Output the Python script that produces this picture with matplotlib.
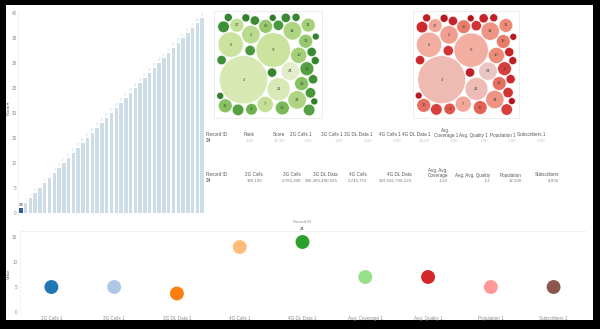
import numpy as np
import matplotlib
matplotlib.use("Agg")
import matplotlib.pyplot as plt
from matplotlib.patches import Rectangle, Circle
from matplotlib.colors import LinearSegmentedColormap

plt.rcParams['font.family'] = ['Liberation Sans', 'DejaVu Sans']

# ---------------- data ----------------
# Rank bar chart (one bar per record, sorted by rank)
rank_values = [1, 2, 3, 4, 5, 6, 7, 8, 9, 10, 11, 12, 13, 14, 15, 16, 17, 18, 19, 20,
               21, 22, 23, 24, 25, 26, 27, 28, 29, 30, 31, 32, 33, 34, 35, 36, 37, 38, 39]
selected_record = "24"

# Bubble charts: record id, bubble size (area) and colour measure
bubble_ids = ["3", "9", "6", "21", "2", "24", "14", "34", "10", "7", "23", "16", "30",
              "13", "25", "18", "27", "31", "4",
              "1", "5", "8", "11", "12", "15", "17", "19", "20", "22", "26", "28", "29",
              "32", "33", "35", "36", "37", "38", "39"]
bubble_size = [441, 225, 121, 100, 64, 64, 64, 64, 49, 49, 36, 36, 36,
               36, 36, 36, 36, 36, 25,
               25, 20, 16, 16, 12, 25, 16, 9, 20, 12, 16, 9, 25,
               16, 12, 9, 20, 16, 9, 12]
bubble_shade = [0.12, 0.22, 0.22, 0.10, 0.30, 0.00, 0.35, 0.35, 0.40, 0.25, 0.50, 0.50, 0.55,
                0.45, 0.45, 0.70, 0.25, 0.40, 0.60,
                0.80, 0.75, 0.90, 0.85, 0.95, 0.70, 0.80, 1.00, 0.75, 0.90, 0.85, 0.95, 0.70,
                0.80, 0.90, 1.00, 0.75, 0.85, 0.95, 0.90]
bubble_labelled = 19

# Detail tables
table1_headers = ["Record ID", "Rank", "Score", "2G Calls 1", "3G Calls 1", "3G DL Data 1",
                  "4G Calls 1", "4G DL Data 1", "Avg.\nCoverage 1", "Avg. Quality 1",
                  "Population 1", "Subscribers 1"]
table1_values = ["24", "1.00", "37.38", "1.00", "1.00", "1.00", "1.00", "14.00", "1.00",
                 "1.00", "1.00", "1.00"]
table2_headers = ["Record ID", "2G Calls", "3G Calls", "3G DL Data", "4G Calls", "4G DL Data",
                  "Avg. Avg.\nCoverage", "Avg. Avg. Quality", "Population", "Subscribers"]
table2_values = ["24", "320,196", "2,766,200", "246,483,490,565", "2,746,753",
                 "369,556,796,123", "-123", "-13", "32,920", "4,936"]

# Measure values for the selected record
measures = ["2G Calls 1", "3G Calls 1", "3G DL Data 1", "4G Calls 1", "4G DL Data 1",
            "Avg. Coverage 1", "Avg. Quality 1", "Population 1", "Subscribers 1"]
measure_values = [5, 5, 3.7, 13, 14, 7, 7, 5, 5]
measure_colors = ["#1f77b4", "#aec7e8", "#ff7f0e", "#ffbb78", "#2ca02c",
                  "#98df8a", "#d62728", "#ff9896", "#8c564b"]

# ---------------- layout helpers ----------------
W, H = 600, 329
fig = plt.figure(figsize=(W / 100, H / 100), dpi=100, facecolor="black")


def rect(x0, y0, x1, y1):
    return [x0 / W, 1 - y1 / H, (x1 - x0) / W, (y1 - y0) / H]


def ftext(x, y, s, **kw):
    fig.text(x / W, 1 - y / H, s, **kw)


fig.patches.append(Rectangle((6 / W, 1 - 320 / H), 587 / W, 315 / H,
                             transform=fig.transFigure, facecolor="white",
                             edgecolor="none", zorder=-5))

GREY = "#8a8a8a"
TICK_FS = 3.3

# ---------------- rank bars ----------------
axb = fig.add_axes(rect(18, 12, 205, 215))
axb.set_facecolor("none")
xs = np.arange(1, len(rank_values) + 1)
bar_colors = ["#2f5f8a"] + ["#cddde8"] * (len(rank_values) - 1)
axb.bar(xs, rank_values, width=0.72, color=bar_colors)
for x, v in zip(xs[1:], rank_values[1:]):
    axb.text(x, v + 0.3, str(v), ha="center", va="bottom", fontsize=2.2, color="#d5d5d5")
axb.text(xs[0], rank_values[0] + 0.3, selected_record, ha="center", va="bottom",
         fontsize=3.2, color="#333333")
axb.set_xlim(0.4, len(rank_values) + 0.6)
axb.set_ylim(-0.4, 40.3)
axb.set_yticks([0, 5, 10, 15, 20, 25, 30, 35, 40])
axb.tick_params(axis="y", labelsize=TICK_FS, labelcolor=GREY, length=0, pad=1)
axb.set_xticks([])
for s in ["top", "right", "bottom"]:
    axb.spines[s].set_visible(False)
axb.spines["left"].set_color("#eeeeee")
axb.spines["left"].set_linewidth(0.5)
ftext(8.5, 108, "Rank \u25be", fontsize=3.1, color="#666666", rotation=90,
      ha="center", va="center")


# ---------------- packed bubbles ----------------
def pack_circles(radii, gap=0.7):
    """Greedy packing: largest first, each circle goes where the layout's
    bounding square grows least, preferring spots near the layout centre."""
    n = len(radii)
    order = sorted(range(n), key=lambda i: -radii[i])
    pos = np.zeros((n, 2))
    done = []
    for k in order:
        r = radii[k]
        if not done:
            pos[k] = (0.0, 0.0)
            done.append(k)
            continue
        cands = []
        for a in done:
            d = radii[a] + r + gap
            for ang in np.linspace(0, 2 * np.pi, 72, endpoint=False):
                cands.append(pos[a] + d * np.array([np.cos(ang), -np.sin(ang)]))
        for ii, a in enumerate(done):
            for b in done[ii + 1:]:
                ra = radii[a] + r + gap
                rb = radii[b] + r + gap
                dv = pos[b] - pos[a]
                dd = np.hypot(*dv)
                if dd == 0 or dd > ra + rb or dd < abs(ra - rb):
                    continue
                l = (ra ** 2 - rb ** 2 + dd ** 2) / (2 * dd)
                h = np.sqrt(max(ra ** 2 - l ** 2, 0))
                base = pos[a] + l * dv / dd
                perp = np.array([-dv[1], dv[0]]) / dd
                cands.append(base + h * perp)
                cands.append(base - h * perp)
        placed = np.array([pos[j] for j in done])
        prad = np.array([radii[j] for j in done])
        lo = (placed - prad[:, None]).min(axis=0)
        hi = (placed + prad[:, None]).max(axis=0)
        mid = (lo + hi) / 2
        best, best_cost = None, np.inf
        for c in cands:
            dist = np.hypot(placed[:, 0] - c[0], placed[:, 1] - c[1])
            if not np.all(dist >= prad + r + gap - 1e-6):
                continue
            nlo = np.minimum(lo, c - r)
            nhi = np.maximum(hi, c + r)
            ext = nhi - nlo
            cost = max(ext) * 1000 + (ext[0] + ext[1]) * 10 + np.hypot(*(c - mid))
            if cost < best_cost - 1e-9:
                best, best_cost = c, cost
        pos[k] = best
        done.append(k)
    return pos


radii = np.sqrt(np.array(bubble_size, dtype=float))
centers = pack_circles(radii)
centers[:, 1] *= -1   # largest bubble at the bottom of the layout

greens = LinearSegmentedColormap.from_list(
    "g", ["#e2edc9", "#cfe5a2", "#a4d077", "#6db24e", "#3e8f35", "#2f7d2c"])
reds = LinearSegmentedColormap.from_list(
    "r", ["#e9c6c4", "#f2b2a6", "#ee8a78", "#e0554a", "#cc2a2e", "#b3141e"])


def draw_bubbles(box, cmap):
    ax = fig.add_axes(rect(*box))
    ax.set_facecolor("white")
    for (cx, cy), r, sh, lab, i in zip(centers, radii, bubble_shade, bubble_ids,
                                       range(len(radii))):
        ax.add_patch(Circle((cx, cy), r, facecolor=cmap(sh), edgecolor="white",
                            linewidth=0.3))
        if i < bubble_labelled:
            ax.text(cx, cy, lab, ha="center", va="center", fontsize=3.0, color="#444444")
    x0 = (centers[:, 0] - radii).min()
    x1 = (centers[:, 0] + radii).max()
    y0 = (centers[:, 1] - radii).min()
    y1 = (centers[:, 1] + radii).max()
    ax.set_xlim(x0 - 2, x1 + 2)
    ax.set_ylim(y0 - 2, y1 + 2)
    ax.set_aspect("equal", adjustable="datalim")
    ax.set_xticks([])
    ax.set_yticks([])
    for s in ax.spines.values():
        s.set_color("#e8e8e8")
        s.set_linewidth(0.5)
    return ax


draw_bubbles((214, 11, 322, 118), greens)
draw_bubbles((413, 11, 519, 118), reds)

# ---------------- detail tables ----------------
HDR = "#555555"
t1_right = [None, 254, 285, 312, 343, 372, 401, 430, 458, 488, 516, 545]
for i, (h, v) in enumerate(zip(table1_headers, table1_values)):
    if i == 0:
        ftext(206, 135, h, fontsize=3.3, color=HDR, va="center", ha="left")
        ftext(206, 140.5, v, fontsize=3.3, color="#333333", va="center", ha="left")
    else:
        ftext(t1_right[i], 133 if "\n" in h else 135, h, fontsize=3.3, color=HDR,
              va="center", ha="right", multialignment="center", linespacing=1.1)
        ftext(t1_right[i], 140.5, v, fontsize=3.2, color="#c4c4c4", va="center", ha="right")

t2_right = [None, 263, 301, 338, 367, 412, 448, 490, 522, 559]
for i, (h, v) in enumerate(zip(table2_headers, table2_values)):
    if i == 0:
        ftext(206, 175, h, fontsize=3.3, color=HDR, va="center", ha="left")
        ftext(206, 180.5, v, fontsize=3.3, color="#333333", va="center", ha="left")
    else:
        ftext(t2_right[i], 173 if "\n" in h else 175, h, fontsize=3.3, color=HDR,
              va="center", ha="right", multialignment="right", linespacing=1.1)
        ftext(t2_right[i], 180.5, v, fontsize=3.2, color="#7a7a7a", va="center", ha="right")

# ---------------- measure dot chart ----------------
axm = fig.add_axes(rect(20, 231, 585, 314))
axm.set_facecolor("none")
mx = np.arange(len(measures))
axm.scatter(mx, measure_values, s=100, c=measure_colors, edgecolors="none", zorder=3)
axm.set_xlim(-0.5, len(measures) - 0.5)
axm.set_ylim(-0.4, 16.2)
axm.set_yticks([0, 5, 10, 15])
axm.set_xticks(mx)
axm.set_xticklabels(measures)
axm.tick_params(axis="both", labelsize=TICK_FS, labelcolor=GREY, length=0, pad=1.5)
axm.tick_params(axis="y", pad=2)
for s in ["right", "bottom"]:
    axm.spines[s].set_visible(False)
axm.spines["top"].set_color("#ececec")
axm.spines["top"].set_linewidth(0.5)
axm.spines["left"].set_color("#f0f0f0")
axm.spines["left"].set_linewidth(0.5)
ftext(8.5, 274, "Value", fontsize=3.1, color="#666666", rotation=90,
      ha="center", va="center")
top_i = int(np.argmax(measure_values))
axm.annotate("Record ID", (mx[top_i], measure_values[top_i]), xytext=(0, 14.5),
             textcoords="offset points", ha="center", va="center", fontsize=3.0,
             color=GREY, annotation_clip=False)
axm.annotate(selected_record, (mx[top_i], measure_values[top_i]), xytext=(0, 9.5),
             textcoords="offset points", ha="center", va="center", fontsize=3.0,
             color="#333333", annotation_clip=False)

fig.savefig("out.png", dpi=100, facecolor=fig.get_facecolor())
